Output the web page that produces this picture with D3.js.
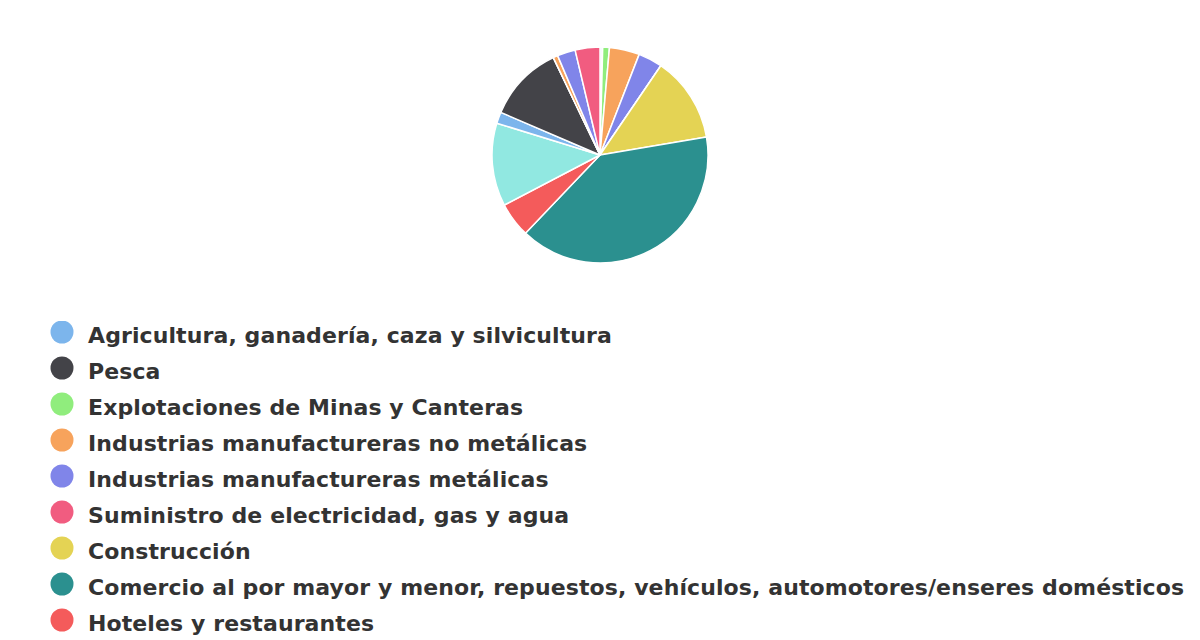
<!DOCTYPE html>
<html>
<head>
<meta charset="utf-8">
<script src="https://cdn.jsdelivr.net/npm/d3@7"></script>
<style>
  html, body { margin: 0; padding: 0; background: #fff; overflow: hidden; }
</style>
</head>
<body>
<div id="content"></div>
<script>
// sectors in the order the pie draws them (clockwise from 12 o'clock)
var sectors = [
  "Agricultura, ganadería, caza y silvicultura",
  "Pesca",
  "Explotaciones de Minas y Canteras",
  "Industrias manufactureras no metálicas",
  "Industrias manufactureras metálicas",
  "Suministro de electricidad, gas y agua",
  "Construcción",
  "Comercio al por mayor y menor, repuestos, vehículos, automotores/enseres domésticos",
  "Hoteles y restaurantes",
  "Transporte, almacenamiento y comunicaciones",
  "Intermediación financiera",
  "Servicios inmobiliarios, empresariales y de alquiler",
  "Administración pública, defensa y seguridad social",
  "Educación",
  "Servicios sociales y de salud",
  "Otras actividades de servicios comunitarios y personales"
];
var shares = [0.3, 0.1, 1.0, 4.5, 3.6, 0.0, 12.8, 39.7, 5.2, 12.4, 1.7, 11.4, 0.0, 0.7, 2.7, 3.7];
var palette = ["#7cb5ec", "#434348", "#90ed7d", "#f7a35c", "#8085e9",
               "#f15c80", "#e4d354", "#2b908f", "#f45b5b", "#91e8e1"];

(function(d3) {

   var win_width = 1200;
   var win_height = 640;
   var cx = 600, cy = 155, radius = 108;

   var data = sectors.map(function(s, i) { return {name: s, value: shares[i], idx: i}; });
   var color = function(i) { return palette[i % palette.length]; };

   var svg = d3.select("#content")
            .append("svg")
            .attr("width", win_width)
            .attr("height", win_height)
            .style("font-family", "'DejaVu Sans', sans-serif");

   var pie = d3.pie().sort(null).value(function(d) { return d.value; });
   var arc = d3.arc().innerRadius(0).outerRadius(radius);

   svg.append("g")
      .attr("transform", "translate(" + cx + "," + cy + ")")
      .selectAll("path")
      .data(pie(data))
      .enter().append("path")
      .attr("d", arc)
      .attr("fill", function(d) { return color(d.data.idx); })
      .attr("stroke", "#ffffff")
      .attr("stroke-width", 1.5)
      .attr("stroke-linejoin", "round");

   // legend, clipped at top like the original; rows past the bottom run off the page
   svg.append("clipPath").attr("id", "legclip")
      .append("rect").attr("x", 0).attr("y", 321).attr("width", win_width).attr("height", 600);

   var row_h = 36, row0 = 335;
   var legend = svg.append("g").attr("clip-path", "url(#legclip)");
   var items = legend.selectAll("g.item")
      .data(data)
      .enter().append("g")
      .attr("class", "item")
      .attr("transform", function(d, i) { return "translate(0," + (row0 + i * row_h) + ")"; });

   items.append("circle")
      .attr("cx", 62)
      .attr("cy", -3)
      .attr("r", 11.5)
      .attr("fill", function(d) { return color(d.idx); });

   items.append("text")
      .attr("x", 88)
      .attr("y", 8)
      .style("font-size", "22px")
      .style("font-weight", "bold")
      .style("letter-spacing", "0.1px")
      .style("fill", "#333333")
      .text(function(d) { return d.name; });

})(window.d3);
</script>
</body>
</html>
